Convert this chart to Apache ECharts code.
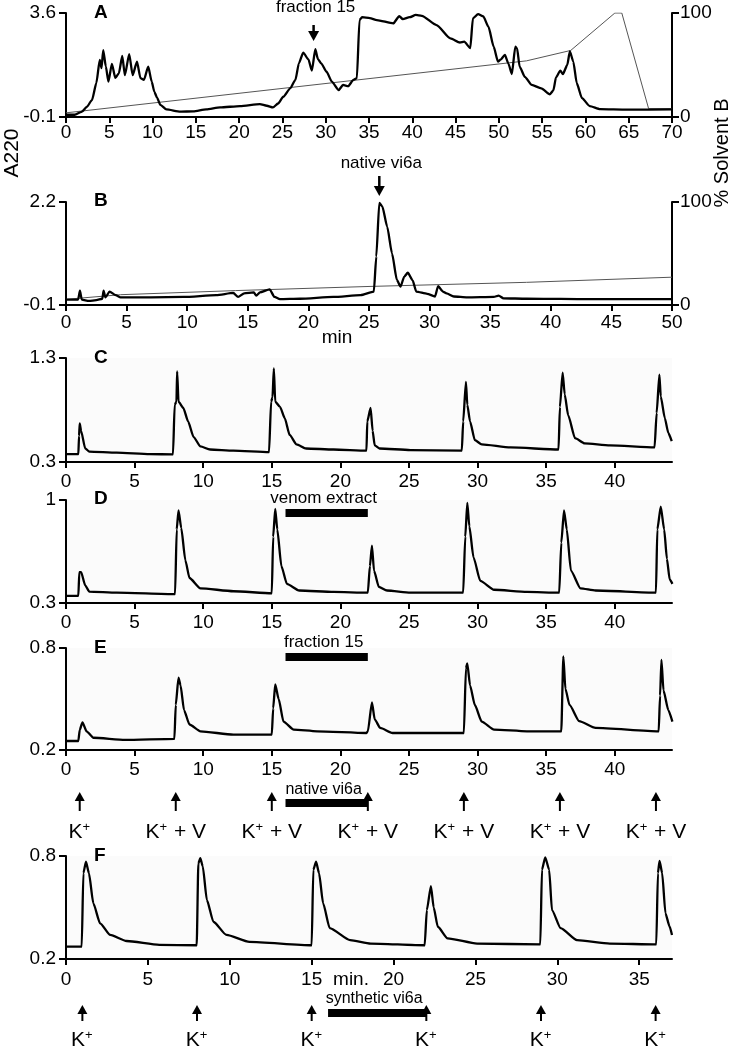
<!DOCTYPE html>
<html><head><meta charset="utf-8">
<script src="https://cdn.jsdelivr.net/npm/echarts@6/dist/echarts.min.js"></script>
<style>html,body{margin:0;padding:0;background:#fff}#c{width:734px;height:1050px}</style>
</head><body><div id="c"></div>
<script>
// ---------- DATA ----------
const xTicksA = [0,5,10,15,20,25,30,35,40,45,50,55,60,65,70];
const xTicksB = [0,5,10,15,20,25,30,35,40,45,50];
const xTicksCDE = [0,5,10,15,20,25,30,35,40];
const xTicksF = [0,5,10,15,20,25,30,35];
const yTicksA = [-0.1, 3.6];
const yTicksB = [-0.1, 2.2];
const yTicksSolvent = [0, 100];
const yTicksC = [0.3, 1.3];
const yTicksD = [0.3, 1];
const yTicksE = [0.2, 0.8];
const yTicksF = [0.2, 0.8];

const traceA = [[0,-0.02],[1,-0.02],[1.8,0.08],[2.4,0.26],[3.0,0.5],[3.5,1.1],[3.9,1.93],[4.1,1.64],[4.3,2.28],[4.6,1.7],[4.9,1.16],[5.3,1.79],[5.7,1.29],[6.1,1.45],[6.5,2.07],[6.8,1.39],[7.3,2.14],[7.7,1.39],[8.2,1.87],[8.6,1.28],[9.0,1.22],[9.5,1.69],[9.9,1.16],[10.2,0.80],[10.5,0.6],[10.9,0.33],[11.6,0.17],[13.2,0.09],[14.7,0.10],[16.2,0.17],[17.8,0.24],[20.1,0.29],[22.4,0.36],[23.2,0.30],[23.9,0.24],[24.5,0.38],[25.1,0.62],[25.9,0.92],[26.5,1.22],[26.9,1.81],[27.4,2.19],[28.0,1.95],[28.4,1.55],[28.8,2.31],[29.1,1.96],[29.5,1.8],[30.1,1.51],[30.7,1.16],[31.5,0.86],[32.0,1.04],[32.6,1.0],[33.2,1.22],[33.6,1.28],[33.9,3.35],[34.2,3.45],[35.1,3.42],[35.9,3.35],[37.8,3.23],[38.5,3.49],[38.9,3.38],[39.7,3.45],[40.4,3.53],[41.1,3.50],[42.8,3.17],[44.4,2.70],[45.5,2.55],[46.0,2.58],[46.7,2.35],[47.0,3.41],[47.6,3.56],[48.2,3.48],[48.8,3.11],[49.4,2.40],[49.9,1.87],[50.2,1.94],[50.7,2.11],[51.1,1.80],[51.5,1.43],[51.9,2.40],[52.1,2.35],[52.4,1.69],[53.0,1.33],[53.8,1.04],[54.9,0.92],[55.9,0.71],[56.3,0.85],[56.6,1.31],[57.1,1.55],[57.4,1.43],[57.9,1.75],[58.2,2.23],[58.6,1.87],[59.0,1.10],[59.6,0.57],[60.5,0.29],[61.7,0.18],[64.8,0.16],[70,0.17]];
const solventA = [[0,4],[53.2,54],[58.3,64],[63.4,100],[64.2,100],[67.3,8],[70,8]];

const traceB = [[0,0.02],[1.0,0.02],[1.15,0.22],[1.3,0.02],[1.9,-0.01],[2.5,0.01],[3.0,0.04],[3.1,0.22],[3.25,0.07],[3.6,0.20],[4.1,0.12],[4.5,0.07],[7.0,0.07],[9.7,0.08],[12.4,0.12],[13.8,0.17],[14.2,0.08],[14.7,0.16],[15.5,0.18],[15.7,0.11],[16.0,0.18],[16.8,0.25],[17.2,0.08],[17.65,0.03],[19.3,0.04],[22.05,0.08],[24.3,0.12],[25.4,0.20],[25.6,0.98],[25.85,2.18],[26.1,2.10],[26.5,1.65],[26.9,1.05],[27.3,0.46],[27.6,0.31],[27.9,0.53],[28.2,0.62],[28.6,0.45],[28.9,0.20],[29.8,0.15],[30.45,0.09],[30.7,0.32],[31.1,0.2],[31.4,0.16],[32.0,0.09],[33.1,0.07],[35.3,0.08],[35.7,0.11],[36.1,0.05],[38.0,0.04],[40.8,0.035],[43.6,0.03],[50,0.03]];
const solventB = [[0,5.5],[4.5,10],[14,14],[25,18],[38,22],[50,27]];

const traceC = [[0,0.375],[0.9,0.375],[0.95,0.55],[1.0,0.67],[1.1,0.6],[1.4,0.43],[1.7,0.40],[3.7,0.39],[6.1,0.375],[7.8,0.374],[7.92,0.85],[8.05,0.88],[8.1,1.17],[8.2,0.88],[8.55,0.82],[8.9,0.69],[9.3,0.54],[9.8,0.45],[10.5,0.42],[12.2,0.41],[14.8,0.395],[14.95,0.88],[15.05,0.92],[15.15,1.20],[15.25,0.88],[15.6,0.83],[15.95,0.72],[16.3,0.56],[16.8,0.47],[17.5,0.43],[19.5,0.42],[21.9,0.41],[21.96,0.69],[22.2,0.82],[22.35,0.6],[22.5,0.46],[22.85,0.43],[25.1,0.415],[28.85,0.41],[28.95,0.69],[29.15,1.07],[29.25,0.85],[29.45,0.69],[29.8,0.51],[30.3,0.47],[32.4,0.44],[35.9,0.42],[36.0,0.83],[36.2,1.16],[36.35,0.95],[36.6,0.75],[37.1,0.53],[37.8,0.48],[39.65,0.46],[42.9,0.44],[43.05,0.77],[43.25,1.14],[43.35,0.93],[43.65,0.72],[43.9,0.58],[44.15,0.50]];

const traceD = [[0,0.348],[0.9,0.348],[0.97,0.51],[1.1,0.51],[1.4,0.42],[1.7,0.377],[3.7,0.37],[7.95,0.36],[8.07,0.80],[8.2,0.93],[8.4,0.81],[8.7,0.59],[9.0,0.47],[9.8,0.40],[12.2,0.38],[15.0,0.366],[15.1,0.75],[15.25,0.94],[15.4,0.80],[15.7,0.55],[16.1,0.43],[17.0,0.385],[19.5,0.375],[22.0,0.37],[22.15,0.55],[22.3,0.69],[22.45,0.52],[22.8,0.41],[23.4,0.385],[25.1,0.37],[28.95,0.37],[29.1,0.75],[29.25,0.98],[29.4,0.82],[29.7,0.61],[30.2,0.45],[31.2,0.39],[33.6,0.375],[35.95,0.37],[36.1,0.71],[36.3,0.93],[36.5,0.80],[36.8,0.52],[37.5,0.40],[38.6,0.385],[43.0,0.37],[43.1,0.80],[43.35,0.955],[43.6,0.80],[43.8,0.60],[44.0,0.46],[44.2,0.43]];

const traceE = [[0,0.253],[0.9,0.253],[1.0,0.318],[1.2,0.363],[1.5,0.31],[2.0,0.272],[4.3,0.259],[7.9,0.265],[8.0,0.465],[8.2,0.625],[8.35,0.58],[8.6,0.435],[9.0,0.35],[9.8,0.31],[12.2,0.29],[15.0,0.29],[15.1,0.445],[15.25,0.586],[15.5,0.5],[15.85,0.367],[16.6,0.32],[18.3,0.31],[21.9,0.30],[22.0,0.31],[22.3,0.48],[22.5,0.38],[22.9,0.33],[23.8,0.30],[26.2,0.30],[29.0,0.30],[29.15,0.68],[29.25,0.71],[29.45,0.58],[29.8,0.465],[30.3,0.367],[31.2,0.32],[33.6,0.31],[36.1,0.31],[36.25,0.75],[36.4,0.56],[36.7,0.465],[37.4,0.37],[38.6,0.33],[43.2,0.31],[43.3,0.52],[43.4,0.73],[43.55,0.55],[43.9,0.435],[44.2,0.367]];

const traceF = [[0,0.272],[0.96,0.272],[1.06,0.70],[1.22,0.767],[1.4,0.70],[1.67,0.524],[2.08,0.408],[2.7,0.34],[3.7,0.305],[5.7,0.282],[7.98,0.28],[8.08,0.757],[8.2,0.787],[8.35,0.74],[8.6,0.544],[9.0,0.417],[9.8,0.34],[11.2,0.30],[15.0,0.28],[15.1,0.72],[15.27,0.767],[15.45,0.70],[15.7,0.524],[16.1,0.38],[17.35,0.31],[18.6,0.29],[21.9,0.28],[22.03,0.485],[22.28,0.625],[22.45,0.50],[22.7,0.388],[23.3,0.32],[25.1,0.29],[28.96,0.285],[29.06,0.72],[29.26,0.792],[29.5,0.72],[29.67,0.485],[30.2,0.38],[31.2,0.31],[33.2,0.29],[36.04,0.285],[36.14,0.70],[36.24,0.772],[36.4,0.70],[36.6,0.466],[36.85,0.39],[37.0,0.34]];

const peakNoteA = {times:[28.6], labels:['fraction 15']};
const peakNoteB = {times:[25.85], labels:['native vi6a']};
const barD = {spans:[[16,22]], labels:['venom extract']};
const barE = {spans:[[16,22]], labels:['fraction 15']};
const barRowE = {spans:[[16,22]], labels:['native vi6a']};
const barRowF = {spans:[[16,22]], labels:['synthetic vi6a']};
const stimTimesCDE = [1, 8, 15, 22, 29, 36, 43];
const stimLabelsCDE = ['K+', 'K+ + V', 'K+ + V', 'K+ + V', 'K+ + V', 'K+ + V', 'K+ + V'];
const stimTimesF = [1, 8, 15, 22, 29, 36];
const stimLabelsF = ['K+', 'K+', 'K+', 'K+', 'K+', 'K+'];
const panelLetters = ['A','B','C','D','E','F'];

// ---------- STYLE / LAYOUT ----------
const FF = 'Liberation Sans, Arial, Helvetica, sans-serif';
const BG = '#fbfbfb';
const grids = [
  {left:66, top:13,  width:606, height:104},
  {left:66, top:202, width:606, height:103},
  {left:66, top:358, width:606, height:104, show:true, backgroundColor:BG, borderWidth:0},
  {left:66, top:500, width:606, height:103, show:true, backgroundColor:BG, borderWidth:0},
  {left:66, top:648, width:606, height:102, show:true, backgroundColor:BG, borderWidth:0},
  {left:66, top:856, width:606, height:103, show:true, backgroundColor:BG, borderWidth:0}
];
const axisLine = {show:true, onZero:false, lineStyle:{color:'#000', width:2}};

function xAxis(i, max, ticks, margin) {
  return {type:'value', gridIndex:i, min:0, max:max,
    axisLine:axisLine,
    axisTick:{show:true, customValues:ticks, length:6, lineStyle:{color:'#000', width:2}},
    axisLabel:{customValues:ticks, color:'#000', fontSize:19, fontFamily:FF, margin:margin},
    splitLine:{show:false}};
}
function yAxis(i, ticks, pos) {
  return {type:'value', gridIndex:i, min:ticks[0], max:ticks[ticks.length-1], position:pos||'left',
    axisLine:axisLine,
    axisTick:{show:true, customValues:ticks, length:7, lineStyle:{color:'#000', width:2}},
    axisLabel:{customValues:ticks, color:'#000', fontSize:19, fontFamily:FF, margin:pos==='right'?8:10},
    splitLine:{show:false}};
}

function lineSeries(x, y, data, color, width, smooth) {
  return {type:'line', xAxisIndex:x, yAxisIndex:y, data:data, showSymbol:false, symbol:'none',
    smooth:smooth || false, smoothMonotone:'x',
    lineStyle:{color:color, width:width}, animation:false, silent:true, z:3};
}

function arrowEls(x, yTip, yTail, dir, hw, head, lw) {
  const s = dir === 'down' ? -1 : 1;
  return [
    {type:'line', shape:{x1:x, y1:yTail, x2:x, y2:yTip + s*head*0.7}, style:{stroke:'#000', lineWidth:lw}},
    {type:'polygon', shape:{points:[[x, yTip],[x-hw, yTip + s*head],[x+hw, yTip + s*head]]}, style:{fill:'#000'}}
  ];
}

function peakSeries(xi, yi, note, textDy, tailDy, tipDy, yMin) {
  return {type:'custom', xAxisIndex:xi, yAxisIndex:yi, clip:false, silent:true, animation:false, z:5,
    data: note.times.map(t => [t, yMin]),
    renderItem: function(params, api) {
      const x = api.coord([api.value(0), yMin])[0];
      const top = params.coordSys.y;
      const els = arrowEls(x, top + tipDy, top + tailDy, 'down', 5.5, 10, 2.5);
      els.push({type:'text', style:{text:note.labels[params.dataIndex], x:x + 2, y:top + textDy,
        align:'center', verticalAlign:'middle', font:'17px ' + FF, fill:'#000'}});
      return {type:'group', children:els};
    }};
}

function barSeries(xi, yi, bar, ref, barDy, textDy, fontSize, yMin) {
  return {type:'custom', xAxisIndex:xi, yAxisIndex:yi, clip:false, silent:true, animation:false, z:4,
    data: bar.spans.map(s => [s[0], yMin, s[1]]),
    renderItem: function(params, api) {
      const x0 = api.coord([api.value(0), yMin])[0];
      const x1 = api.coord([api.value(2), yMin])[0];
      const cs = params.coordSys;
      const base = ref === 'top' ? cs.y : cs.y + cs.height;
      return {type:'group', children:[
        {type:'rect', shape:{x:x0, y:base + barDy - 4, width:x1 - x0, height:8}, style:{fill:'#000'}},
        {type:'text', style:{text:bar.labels[params.dataIndex], x:(x0 + x1)/2 - 3, y:base + textDy,
          align:'center', verticalAlign:'middle', font:fontSize + 'px ' + FF, fill:'#000'}}
      ]};
    }};
}

// K+ labels: the "+" after K is drawn as a superscript via rich text
function kRich(label) {
  const parts = label.split('K+');
  let s = '';
  parts.forEach((p, i) => { if (i > 0) s += '{k|K}{p|+}'; if (p) s += '{k|' + p + '}'; });
  return s;
}
function stimSeries(xi, yi, times, labels, tipDy, tailDy, textDy, yMin) {
  return {type:'custom', xAxisIndex:xi, yAxisIndex:yi, clip:false, silent:true, animation:false, z:5,
    data: times.map(t => [t, yMin]),
    renderItem: function(params, api) {
      const x = api.coord([api.value(0), yMin])[0];
      const bottom = params.coordSys.y + params.coordSys.height;
      const els = arrowEls(x, bottom + tipDy, bottom + tailDy, 'up', 5, 9, 2);
      els.push({type:'text', style:{text:kRich(labels[params.dataIndex]), x:x, y:bottom + textDy,
        align:'center', verticalAlign:'middle', fill:'#000',
        rich:{k:{fontSize:21, fontFamily:FF, lineHeight:22, verticalAlign:'bottom'},
              p:{fontSize:13, fontFamily:FF, lineHeight:22, verticalAlign:'top', padding:[0,1,9,0]}}}});
      return {type:'group', children:els};
    }};
}

const letterY = [13, 201, 358, 499, 648, 856];
const graphics = panelLetters.map((L, i) => ({type:'text', left:94, top:letterY[i] - 10,
  style:{text:L, font:'bold 19px ' + FF, fill:'#000'}}));
graphics.push({type:'text', x:12, y:153, rotation:Math.PI/2,
  style:{text:'A220', font:'21px ' + FF, fill:'#000', align:'center', verticalAlign:'middle'}});
graphics.push({type:'text', x:722, y:153, rotation:Math.PI/2,
  style:{text:'% Solvent B', font:'20px ' + FF, fill:'#000', align:'center', verticalAlign:'middle'}});
graphics.push({type:'text', x:337, y:338,
  style:{text:'min', font:'19px ' + FF, fill:'#000', align:'center', verticalAlign:'middle'}});
graphics.push({type:'text', x:351, y:980,
  style:{text:'min.', font:'19px ' + FF, fill:'#000', align:'center', verticalAlign:'middle'}});

const option = {
  animation:false,
  backgroundColor:'#fff',
  grid:grids,
  xAxis:[
    xAxis(0, 70, xTicksA, 6),
    xAxis(1, 50, xTicksB, 8),
    xAxis(2, 44.17, xTicksCDE, 10),
    xAxis(3, 44.17, xTicksCDE, 10),
    xAxis(4, 44.17, xTicksCDE, 10),
    xAxis(5, 37.0, xTicksF, 11)
  ],
  yAxis:[
    yAxis(0, yTicksA),
    yAxis(0, yTicksSolvent, 'right'),
    yAxis(1, yTicksB),
    yAxis(1, yTicksSolvent, 'right'),
    yAxis(2, yTicksC),
    yAxis(3, yTicksD),
    yAxis(4, yTicksE),
    yAxis(5, yTicksF)
  ],
  graphic:graphics,
  series:[
    lineSeries(0, 1, solventA, '#555', 1),
    lineSeries(0, 0, traceA, '#000', 2.3, 0.2),
    lineSeries(1, 3, solventB, '#555', 1),
    lineSeries(1, 2, traceB, '#000', 2.3, 0.2),
    lineSeries(2, 4, traceC, '#000', 2.3, 0.2),
    lineSeries(3, 5, traceD, '#000', 2.3, 0.2),
    lineSeries(4, 6, traceE, '#000', 2.3, 0.2),
    lineSeries(5, 7, traceF, '#000', 2.3, 0.2),
    peakSeries(0, 0, peakNoteA, -6, 12, 28, yTicksA[0]),
    peakSeries(1, 2, peakNoteB, -39, -26, -6, yTicksB[0]),
    barSeries(3, 5, barD, 'top', 13, -2, 17, yTicksD[0]),
    barSeries(4, 6, barE, 'top', 9, -6, 17, yTicksE[0]),
    barSeries(4, 6, barRowE, 'bottom', 53, 40, 16, yTicksE[0]),
    barSeries(5, 7, barRowF, 'bottom', 54, 40, 16, yTicksF[0]),
    stimSeries(4, 6, stimTimesCDE, stimLabelsCDE, 42, 61, 82, yTicksE[0]),
    stimSeries(5, 7, stimTimesF, stimLabelsF, 46, 62, 81, yTicksF[0])
  ]
};
const chart = echarts.init(document.getElementById('c'), null, {renderer:'canvas'});
chart.setOption(option);
</script>
</body></html>
